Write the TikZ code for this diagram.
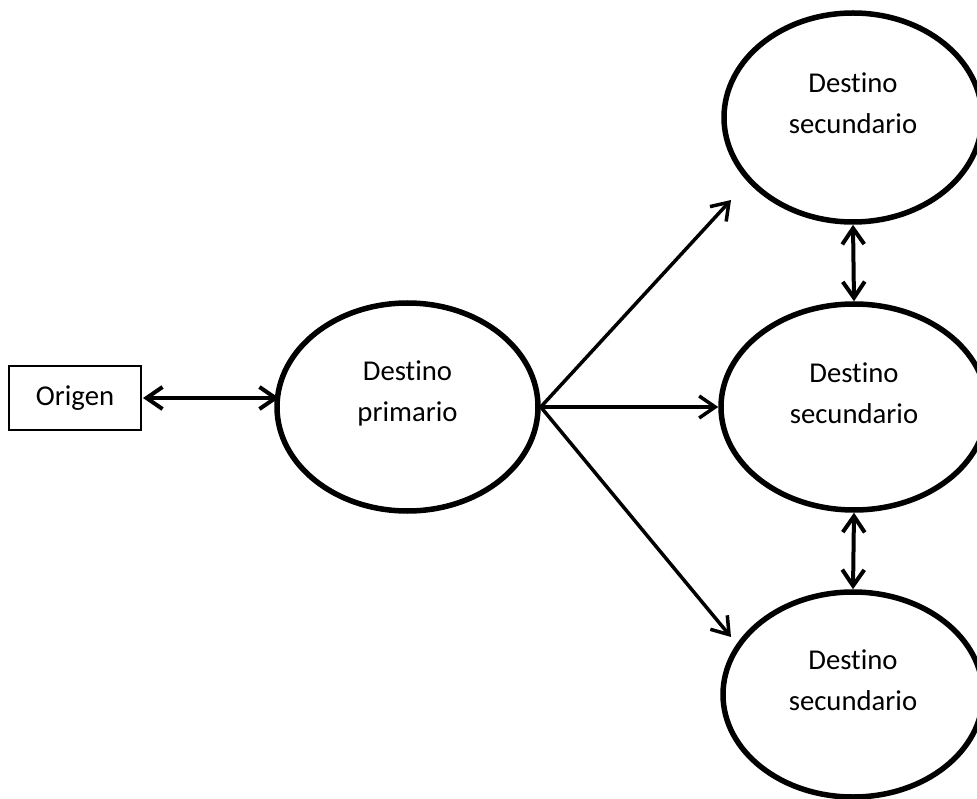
\documentclass[tikz,border=0pt]{standalone}
\usepackage{fontspec}
\setmainfont{Carlito}[Ligatures=NoCommon]
\usetikzlibrary{shapes.geometric,arrows.meta}
\begin{document}
\begin{tikzpicture}[x=1pt,y=-1pt,
  dest/.style={draw,ellipse,line width=5.5pt,inner sep=0pt},
  etxt/.style={align=center,inner sep=0pt,font=\fontsize{28.7}{41}\selectfont},
  boxnode/.style={draw,line width=1.5pt,minimum width=132pt,minimum height=64pt,inner sep=0pt,font=\fontsize{28.7}{41}\selectfont},
  link/.style={line width=3.5pt,-{Straight Barb[length=16pt,width=22pt]}},
  twoway/.style={line width=4pt,{Straight Barb[length=16pt,width=22pt]}-{Straight Barb[length=16pt,width=22pt]}}]
\useasboundingbox (0,0) rectangle (977,799);

% origin box
\node[boxnode] (orig) at (75,398) {Origen};

% primary destination
\node[dest,minimum width=261pt,minimum height=208pt] (prim) at (407.5,407) {};
\node[etxt] (primT) at ([yshift=14pt]prim.center) {Destino\\primario};

% secondary destinations
\node[dest,minimum width=258pt,minimum height=209pt] (secA) at (853,117.5) {};
\node[etxt] (secAT) at ([yshift=14pt]secA.center) {Destino\\secundario};
\node[dest,minimum width=266pt,minimum height=206pt] (secB) at (854,407) {};
\node[etxt] (secBT) at ([yshift=14pt]secB.center) {Destino\\secundario};
\node[dest,minimum width=260pt,minimum height=205pt] (secC) at (853,694.5) {};
\node[etxt] (secCT) at ([yshift=14pt]secC.center) {Destino\\secundario};

% free arrow ends near the outer destinations
\coordinate (toA) at (731,200);
\coordinate (toC) at (731,637);
\coordinate (origR) at (143,398);
\coordinate (primL) at (279,398);

% connectors
\draw[twoway] (origR) -- (primL);
\draw[link] (prim.east) -- (toA);
\draw[link] (prim.east) -- (secB.west);
\draw[link] (prim.east) -- (toC);
\draw[twoway] (secA.south) -- (secB.north);
\draw[twoway] (secB.south) -- (secC.north);
\end{tikzpicture}
\end{document}
